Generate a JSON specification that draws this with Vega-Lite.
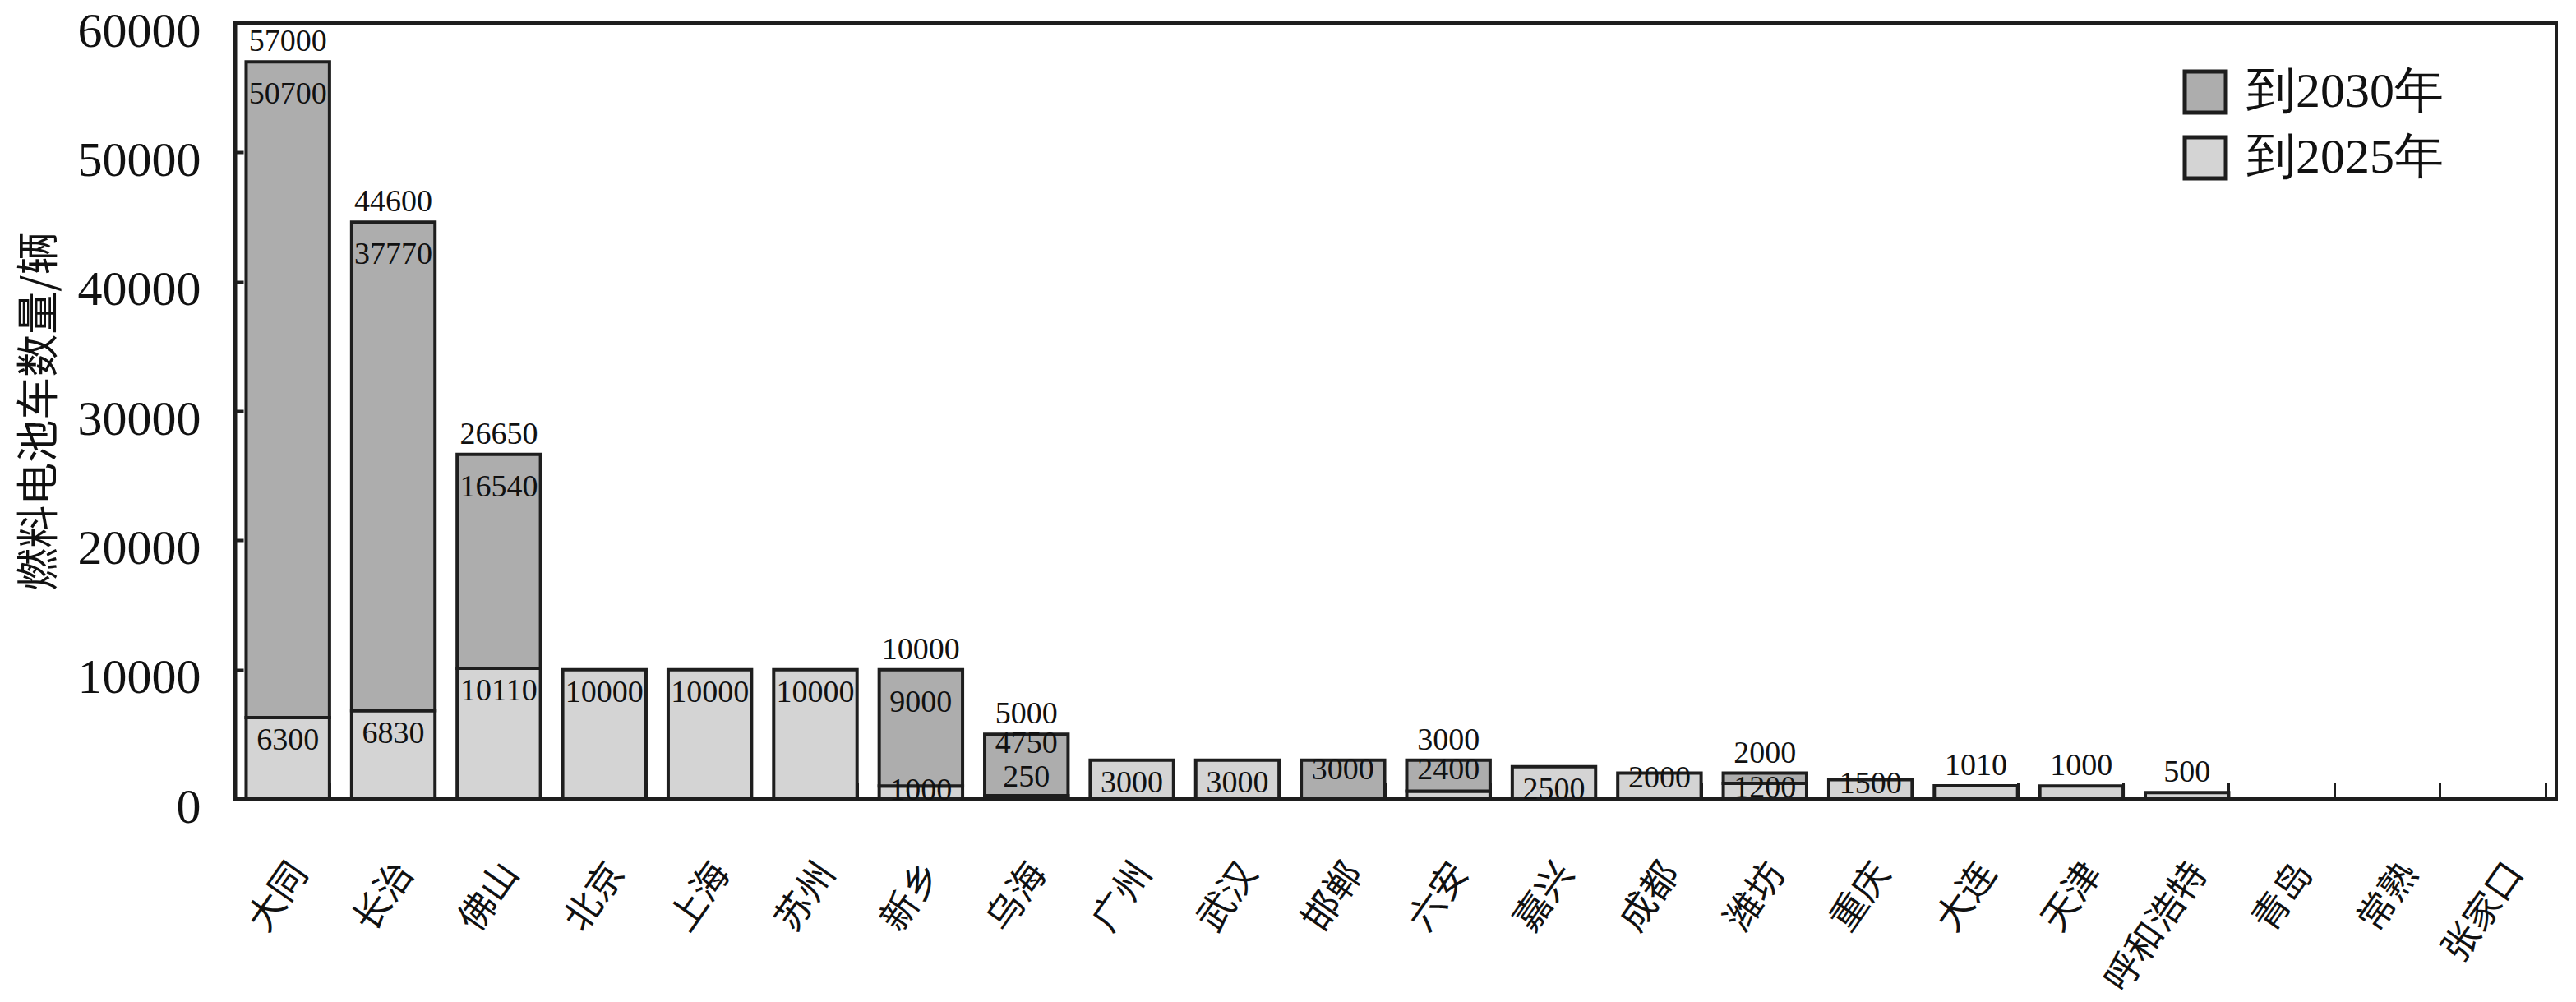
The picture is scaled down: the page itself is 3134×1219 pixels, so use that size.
{
  "$schema": "https://vega.github.io/schema/vega-lite/v6.json",
  "width": 2824,
  "height": 944,
  "autosize": {"type": "none"},
  "padding": {"left": 286, "top": 28, "right": 24, "bottom": 247},
  "background": "white",
  "config": {"view": {"stroke": "#1e1e1e", "strokeWidth": 4}, "font": "Liberation Serif"},
  "datasets": {
    "cities": [
      {"city": "大同", "到2025年": 6300, "到2030年": 50700, "total": 57000},
      {"city": "长治", "到2025年": 6830, "到2030年": 37770, "total": 44600},
      {"city": "佛山", "到2025年": 10110, "到2030年": 16540, "total": 26650},
      {"city": "北京", "到2025年": 10000, "到2030年": 0, "total": 10000},
      {"city": "上海", "到2025年": 10000, "到2030年": 0, "total": 10000},
      {"city": "苏州", "到2025年": 10000, "到2030年": 0, "total": 10000},
      {"city": "新乡", "到2025年": 1000, "到2030年": 9000, "total": 10000},
      {"city": "乌海", "到2025年": 250, "到2030年": 4750, "total": 5000},
      {"city": "广州", "到2025年": 3000, "到2030年": 0, "total": 3000},
      {"city": "武汉", "到2025年": 3000, "到2030年": 0, "total": 3000},
      {"city": "邯郸", "到2025年": 0, "到2030年": 3000, "total": 3000},
      {"city": "六安", "到2025年": 600, "到2030年": 2400, "total": 3000},
      {"city": "嘉兴", "到2025年": 2500, "到2030年": 0, "total": 2500},
      {"city": "成都", "到2025年": 2000, "到2030年": 0, "total": 2000},
      {"city": "潍坊", "到2025年": 1200, "到2030年": 800, "total": 2000},
      {"city": "重庆", "到2025年": 1500, "到2030年": 0, "total": 1500},
      {"city": "大连", "到2025年": 1010, "到2030年": 0, "total": 1010},
      {"city": "天津", "到2025年": 1000, "到2030年": 0, "total": 1000},
      {"city": "呼和浩特", "到2025年": 500, "到2030年": 0, "total": 500},
      {"city": "青岛", "到2025年": 0, "到2030年": 0, "total": 0},
      {"city": "常熟", "到2025年": 0, "到2030年": 0, "total": 0},
      {"city": "张家口", "到2025年": 0, "到2030年": 0, "total": 0}
    ],
    "labels": [
      {"city": "大同", "kind": "total", "value": 57000},
      {"city": "大同", "kind": "inc", "value": 50700},
      {"city": "大同", "kind": "base", "value": 6300},
      {"city": "长治", "kind": "total", "value": 44600},
      {"city": "长治", "kind": "inc", "value": 37770},
      {"city": "长治", "kind": "base", "value": 6830},
      {"city": "佛山", "kind": "total", "value": 26650},
      {"city": "佛山", "kind": "inc", "value": 16540},
      {"city": "佛山", "kind": "base", "value": 10110},
      {"city": "北京", "kind": "base", "value": 10000},
      {"city": "上海", "kind": "base", "value": 10000},
      {"city": "苏州", "kind": "base", "value": 10000},
      {"city": "新乡", "kind": "total", "value": 10000},
      {"city": "新乡", "kind": "inc", "value": 9000},
      {"city": "新乡", "kind": "base", "value": 1000},
      {"city": "乌海", "kind": "total", "value": 5000},
      {"city": "乌海", "kind": "inc", "value": 4750},
      {"city": "乌海", "kind": "base", "value": 250},
      {"city": "广州", "kind": "base", "value": 3000},
      {"city": "武汉", "kind": "base", "value": 3000},
      {"city": "邯郸", "kind": "inc", "value": 3000},
      {"city": "六安", "kind": "total", "value": 3000},
      {"city": "六安", "kind": "inc", "value": 2400},
      {"city": "嘉兴", "kind": "base", "value": 2500},
      {"city": "成都", "kind": "base", "value": 2000},
      {"city": "潍坊", "kind": "total", "value": 2000},
      {"city": "潍坊", "kind": "base", "value": 1200},
      {"city": "重庆", "kind": "base", "value": 1500},
      {"city": "大连", "kind": "total", "value": 1010},
      {"city": "天津", "kind": "total", "value": 1000},
      {"city": "呼和浩特", "kind": "total", "value": 500}
    ]
  },
  "encoding": {
    "x": {
      "field": "city",
      "type": "nominal",
      "scale": {
        "domain": ["大同", "长治", "佛山", "北京", "上海", "苏州", "新乡", "乌海", "广州", "武汉", "邯郸", "六安", "嘉兴", "成都", "潍坊", "重庆", "大连", "天津", "呼和浩特", "青岛", "常熟", "张家口"],
        "paddingInner": 0.21,
        "paddingOuter": 0.105
      },
      "axis": {
        "title": null,
        "labelAngle": -55,
        "labelAlign": "right",
        "labelBaseline": "middle",
        "labelFont": "Noto Sans CJK SC",
        "labelFontSize": 45,
        "labelColor": "#111111",
        "labelPadding": 102,
        "labelOffset": 14,
        "labelLimit": 600,
        "tickSize": -20,
        "tickWidth": 3,
        "tickColor": "#1e1e1e",
        "tickBand": "extent",
        "domainWidth": 4,
        "domainColor": "#1e1e1e"
      }
    },
    "y": {
      "type": "quantitative",
      "scale": {"domain": [0, 60000], "nice": false},
      "axis": {
        "title": "燃料电池车数量/辆",
        "values": [0, 10000, 20000, 30000, 40000, 50000, 60000],
        "grid": false,
        "format": "d",
        "labelFont": "Liberation Serif",
        "labelFontSize": 60,
        "labelColor": "#111111",
        "labelPadding": 52,
        "labelOffset": 10,
        "tickSize": -10,
        "tickWidth": 4,
        "tickColor": "#1e1e1e",
        "domainWidth": 4,
        "domainColor": "#1e1e1e",
        "titleFont": "Noto Sans CJK SC",
        "titleFontSize": 52,
        "titleFontWeight": "normal",
        "titleColor": "#111111",
        "titleX": -238,
        "titleY": 472,
        "titleAngle": -90,
        "titleAlign": "center",
        "titleBaseline": "middle"
      }
    }
  },
  "layer": [
    {
      "data": {"name": "cities"},
      "transform": [
        {"fold": ["到2025年", "到2030年"], "as": ["series", "value"]},
        {"filter": "datum.value > 0"}
      ],
      "mark": {"type": "bar", "stroke": "#1e1e1e", "strokeWidth": 4},
      "encoding": {
        "y": {"field": "value", "stack": "zero"},
        "color": {
          "field": "series",
          "type": "nominal",
          "scale": {"domain": ["到2030年", "到2025年"], "range": ["#adadad", "#d4d4d4"]},
          "legend": {
            "orient": "none",
            "legendX": 2367,
            "legendY": 54,
            "title": null,
            "symbolType": "square",
            "symbolSize": 2500,
            "symbolStrokeColor": "#1e1e1e",
            "symbolStrokeWidth": 5,
            "symbolOpacity": 1,
            "labelFont": "Liberation Serif",
            "labelFontSize": 60,
            "labelColor": "#111111",
            "labelOffset": 20,
            "labelLimit": 600,
            "rowPadding": 10
          }
        },
        "order": {"field": "series", "sort": "ascending"}
      }
    },
    {
      "data": {"name": "labels"},
      "transform": [
        {"lookup": "city", "from": {"data": {"name": "cities"}, "key": "city", "fields": ["到2025年", "total"]}}
      ],
      "encoding": {
        "text": {"field": "value", "type": "quantitative", "format": "d"}
      },
      "layer": [
        {
          "transform": [{"filter": "datum.kind === 'total'"}],
          "mark": {"type": "text", "baseline": "bottom", "dy": -5, "fontSize": 38, "font": "Liberation Serif", "color": "#111111"},
          "encoding": {"y": {"field": "total"}}
        },
        {
          "transform": [{"filter": "datum.kind === 'inc' && datum.total >= 10000"}],
          "mark": {"type": "text", "baseline": "middle", "dy": 40, "fontSize": 38, "font": "Liberation Serif", "color": "#111111"},
          "encoding": {"y": {"field": "total"}}
        },
        {
          "transform": [{"filter": "datum.kind === 'inc' && datum.total < 10000"}],
          "mark": {"type": "text", "baseline": "middle", "dy": 12, "fontSize": 38, "font": "Liberation Serif", "color": "#111111"},
          "encoding": {"y": {"field": "total"}}
        },
        {
          "transform": [{"filter": "datum.kind === 'base' && datum.value >= 2500"}],
          "mark": {"type": "text", "baseline": "middle", "dy": 28, "fontSize": 38, "font": "Liberation Serif", "color": "#111111"},
          "encoding": {"y": {"field": "到2025年"}}
        },
        {
          "transform": [{"filter": "datum.kind === 'base' && datum.value >= 1000 && datum.value < 2500"}],
          "mark": {"type": "text", "baseline": "middle", "dy": 6, "fontSize": 38, "font": "Liberation Serif", "color": "#111111"},
          "encoding": {"y": {"field": "到2025年"}}
        },
        {
          "transform": [{"filter": "datum.kind === 'base' && datum.value < 1000"}],
          "mark": {"type": "text", "baseline": "middle", "dy": -22, "fontSize": 38, "font": "Liberation Serif", "color": "#111111"},
          "encoding": {"y": {"field": "到2025年"}}
        }
      ]
    }
  ]
}
